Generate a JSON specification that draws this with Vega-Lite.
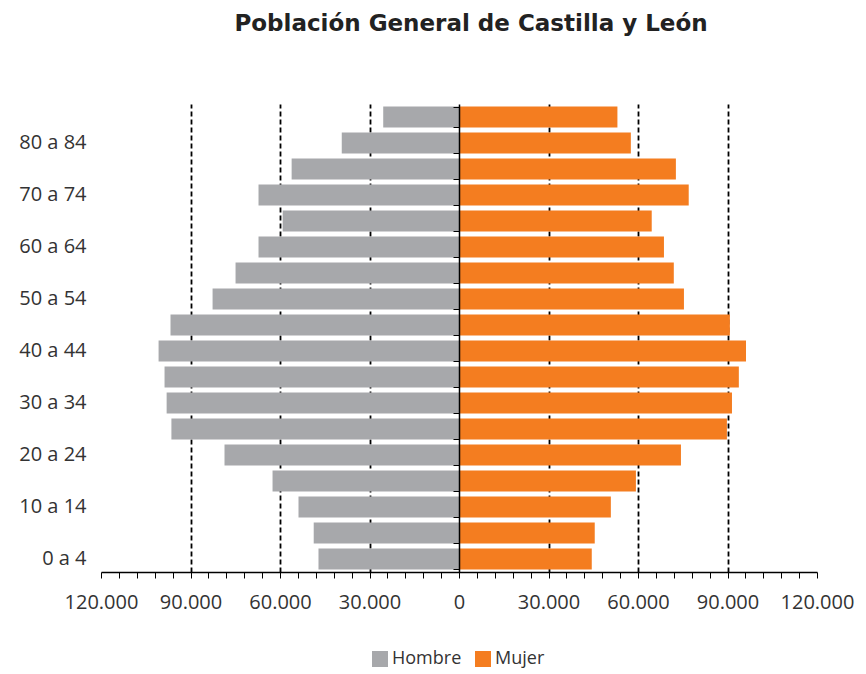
{
  "$schema": "https://vega.github.io/schema/vega-lite/v6.json",
  "width": 716,
  "height": 468,
  "padding": {"left": 18, "right": 5, "top": 13, "bottom": 5},
  "title": {
    "text": "Población General de Castilla y León",
    "font": "DejaVu Sans",
    "fontSize": 23,
    "fontWeight": "bold",
    "color": "#222222",
    "anchor": "middle",
    "dx": 12,
    "offset": 68
  },
  "config": {
    "view": {"stroke": null},
    "font": "Open Sans"
  },
  "data": {
    "values": [
      {"edad": "85 y más", "sexo": "Hombre", "valor": -25400},
      {"edad": "85 y más", "sexo": "Mujer", "valor": 53100},
      {"edad": "80 a 84", "sexo": "Hombre", "valor": -39300},
      {"edad": "80 a 84", "sexo": "Mujer", "valor": 57600},
      {"edad": "75 a 79", "sexo": "Hombre", "valor": -56100},
      {"edad": "75 a 79", "sexo": "Mujer", "valor": 72700},
      {"edad": "70 a 74", "sexo": "Hombre", "valor": -67200},
      {"edad": "70 a 74", "sexo": "Mujer", "valor": 77000},
      {"edad": "65 a 69", "sexo": "Hombre", "valor": -59100},
      {"edad": "65 a 69", "sexo": "Mujer", "valor": 64600},
      {"edad": "60 a 64", "sexo": "Hombre", "valor": -67200},
      {"edad": "60 a 64", "sexo": "Mujer", "valor": 68700},
      {"edad": "55 a 59", "sexo": "Hombre", "valor": -74900},
      {"edad": "55 a 59", "sexo": "Mujer", "valor": 72000},
      {"edad": "50 a 54", "sexo": "Hombre", "valor": -82600},
      {"edad": "50 a 54", "sexo": "Mujer", "valor": 75400},
      {"edad": "45 a 49", "sexo": "Hombre", "valor": -96700},
      {"edad": "45 a 49", "sexo": "Mujer", "valor": 90800},
      {"edad": "40 a 44", "sexo": "Hombre", "valor": -100700},
      {"edad": "40 a 44", "sexo": "Mujer", "valor": 96200},
      {"edad": "35 a 39", "sexo": "Hombre", "valor": -98700},
      {"edad": "35 a 39", "sexo": "Mujer", "valor": 93800},
      {"edad": "30 a 34", "sexo": "Hombre", "valor": -98000},
      {"edad": "30 a 34", "sexo": "Mujer", "valor": 91500},
      {"edad": "25 a 29", "sexo": "Hombre", "valor": -96400},
      {"edad": "25 a 29", "sexo": "Mujer", "valor": 89800},
      {"edad": "20 a 24", "sexo": "Hombre", "valor": -78600},
      {"edad": "20 a 24", "sexo": "Mujer", "valor": 74400},
      {"edad": "15 a 19", "sexo": "Hombre", "valor": -62500},
      {"edad": "15 a 19", "sexo": "Mujer", "valor": 59300},
      {"edad": "10 a 14", "sexo": "Hombre", "valor": -53800},
      {"edad": "10 a 14", "sexo": "Mujer", "valor": 50900},
      {"edad": "5 a 9", "sexo": "Hombre", "valor": -48700},
      {"edad": "5 a 9", "sexo": "Mujer", "valor": 45500},
      {"edad": "0 a 4", "sexo": "Hombre", "valor": -47100},
      {"edad": "0 a 4", "sexo": "Mujer", "valor": 44500}
    ]
  },
  "resolve": {"axis": {"y": "independent"}},
  "layer": [
    {
      "mark": {"type": "bar"},
      "encoding": {
        "y": {
          "field": "edad",
          "type": "nominal",
          "scale": {
            "domain": ["85 y más", "80 a 84", "75 a 79", "70 a 74", "65 a 69", "60 a 64", "55 a 59", "50 a 54", "45 a 49", "40 a 44", "35 a 39", "30 a 34", "25 a 29", "20 a 24", "15 a 19", "10 a 14", "5 a 9", "0 a 4"],
            "paddingInner": 0.2,
            "paddingOuter": 0.1
          },
          "axis": {
            "orient": "left",
            "title": null,
            "domain": false,
            "ticks": false,
            "grid": false,
            "labelPadding": 15,
            "labelFontSize": 20,
            "labelColor": "#333333",
            "labelExpr": "test(regexp('^[0-9]*0 a'), datum.value) ? datum.value : ''"
          }
        },
        "x": {
          "field": "valor",
          "type": "quantitative",
          "scale": {"domain": [-120000, 120000], "nice": false},
          "axis": {
            "title": null,
            "values": [-120000, -114000, -108000, -102000, -96000, -90000, -84000, -78000, -72000, -66000, -60000, -54000, -48000, -42000, -36000, -30000, -24000, -18000, -12000, -6000, 0, 6000, 12000, 18000, 24000, 30000, 36000, 42000, 48000, 54000, 60000, 66000, 72000, 78000, 84000, 90000, 96000, 102000, 108000, 114000, 120000],
            "labelExpr": "datum.value % 30000 == 0 ? replace(format(abs(datum.value), ','), ',', '.') : ''",
            "labelFontSize": 20,
            "labelColor": "#333333",
            "labelPadding": 14,
            "labelOverlap": false,
            "labelFlush": false,
            "domainColor": "#000000",
            "domainWidth": 1.5,
            "tickColor": "#000000",
            "tickWidth": 1,
            "tickSize": 6,
            "grid": true,
            "gridColor": "#000000",
            "gridWidth": 1.8,
            "gridDash": [5, 3],
            "gridOpacity": {
              "condition": {"test": "datum.value % 30000 == 0 && abs(datum.value) < 120000 && datum.value != 0", "value": 1},
              "value": 0
            }
          }
        },
        "color": {
          "field": "sexo",
          "type": "nominal",
          "scale": {"domain": ["Hombre", "Mujer"], "range": ["#A7A8AB", "#F47D20"]},
          "legend": {
            "title": null,
            "orient": "none",
            "legendX": 270,
            "legendY": 546,
            "padding": 0,
            "direction": "horizontal",
            "symbolType": "square",
            "symbolSize": 256,
            "symbolStrokeWidth": 0,
            "symbolOpacity": 1,
            "labelFontSize": 18,
            "labelOffset": 3,
            "labelColor": "#333333",
            "columnPadding": 12
          }
        }
      }
    },
    {
      "mark": {"type": "bar", "opacity": 0},
      "encoding": {
        "y": {
          "field": "edad",
          "type": "nominal",
          "axis": {
            "orient": "left",
            "offset": -358,
            "title": null,
            "labels": false,
            "domain": true,
            "domainColor": "#000000",
            "domainWidth": 1.5,
            "ticks": true,
            "tickBand": "extent",
            "tickColor": "#000000",
            "tickSize": 6,
            "grid": false,
            "zindex": 1
          }
        }
      }
    }
  ]
}
